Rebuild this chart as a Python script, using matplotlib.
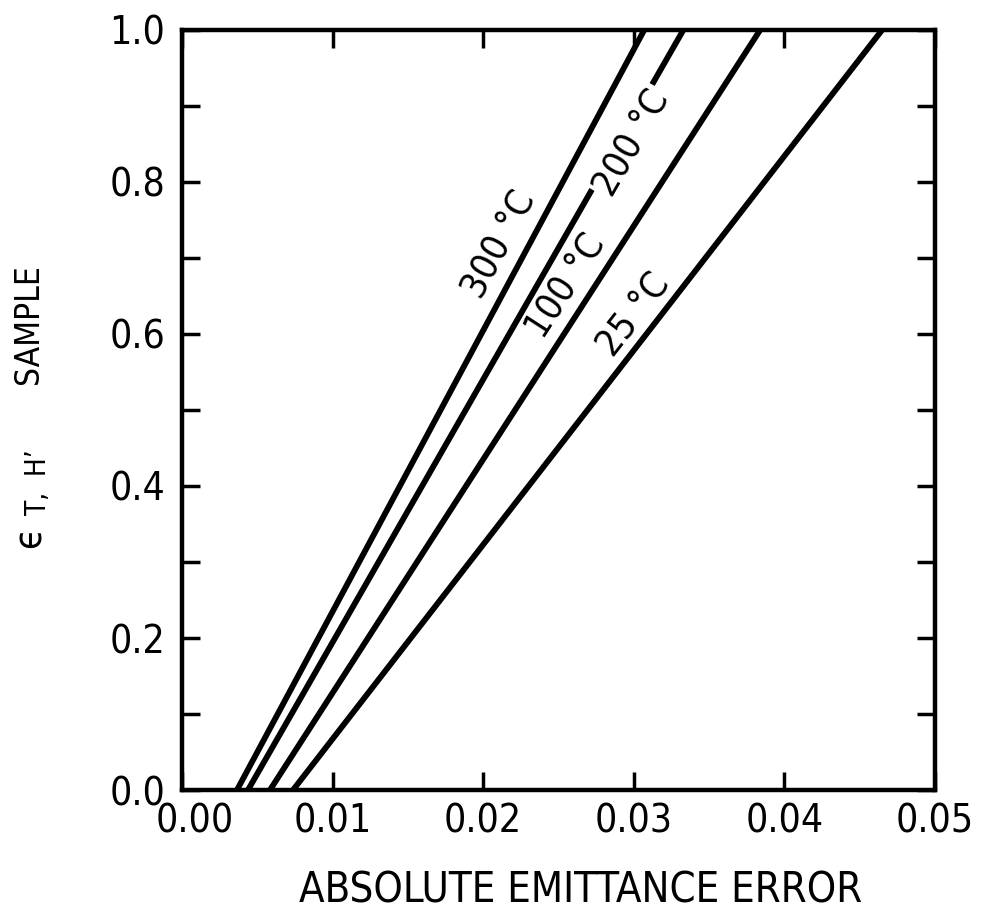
import numpy as np
import matplotlib
matplotlib.use("Agg")
import matplotlib.pyplot as plt
from matplotlib import font_manager as fm
from matplotlib.transforms import ScaledTranslation

# Data: each line runs from (x_at_0, 0) to (x_at_1, 1)
temps = ["300 °C", "200 °C", "100 °C", "25 °C"]
x_at_0 = [0.00365, 0.00438, 0.00584, 0.00737]
x_at_1 = [0.0307, 0.0333, 0.0384, 0.0465]
y_ends = [0.0, 1.0]
label_x = [0.02112, 0.02995, 0.02556, 0.03008]
label_y = [0.717, 0.851, 0.662, 0.625]
xticks = [0.00, 0.01, 0.02, 0.03, 0.04, 0.05]
xticklabels = ["0.00", "0.01", "0.02", "0.03", "0.04", "0.05"]
yticks = [0.0, 0.2, 0.4, 0.6, 0.8, 1.0]
yticklabels = ["0.0", "0.2", "0.4", "0.6", "0.8", "1.0"]
yminor = [0.1, 0.3, 0.5, 0.7, 0.9]

# pick a condensed face if one is installed
cond = fm.FontProperties(family='DejaVu Sans', stretch='condensed')
path = fm.findfont(cond, fallback_to_default=True)
if 'Condensed' in path:
    STRETCH = 'condensed'
    TS = 28
else:
    STRETCH = 'normal'
    TS = 26
plt.rcParams['font.family'] = ['DejaVu Sans']
plt.rcParams['font.stretch'] = STRETCH

W, H = 984, 913
fig = plt.figure(figsize=(W / 100, H / 100), dpi=100)
ax = fig.add_axes([0.185, 0.1347, 0.765, 0.8325])
ax.set_xlim(0, 0.05)
ax.set_ylim(0, 1.0)

for x0, x1 in zip(x_at_0, x_at_1):
    ax.plot([x0, x1], y_ends, color='black', lw=4.2, solid_capstyle='butt', zorder=2)

ax.set_xticks(xticks)
ax.set_xticklabels(xticklabels)
ax.set_yticks(yticks)
ax.set_yticklabels(yticklabels)
ax.set_yticks(yminor, minor=True)
ax.tick_params(which='both', direction='in', top=True, right=True,
               length=13, width=2.5, labelsize=TS)
ax.tick_params(axis='x', pad=9)
ax.tick_params(axis='y', pad=12)
for s in ax.spines.values():
    s.set_linewidth(3.2)

# the first x tick label sits a little to the right in the original
first = ax.get_xticklabels()[0]
first.set_transform(first.get_transform() + ScaledTranslation(0.13, 0, fig.dpi_scale_trans))

for i, (t, lx, ly) in enumerate(zip(temps, label_x, label_y)):
    p0 = ax.transData.transform((x_at_0[i], 0.0))
    p1 = ax.transData.transform((x_at_1[i], 1.0))
    ang = np.degrees(np.arctan2(p1[1] - p0[1], p1[0] - p0[0]))
    kw = {}
    if i == 1:
        kw['bbox'] = dict(facecolor='white', edgecolor='none', pad=2)
    ax.text(lx, ly, t, rotation=ang, rotation_mode='anchor',
            ha='center', va='center', fontsize=TS - 1, zorder=3, **kw)

ax.set_xlabel("ABSOLUTE EMITTANCE ERROR", fontsize=TS + 2)
ax.xaxis.set_label_coords(0.53, -0.105)

# y label assembled from pieces (rotated)
def fpos(px, py):
    return px / W, 1 - py / H

fig.text(*fpos(30, 537), "\u03f5", rotation=90, ha='center', va='center', fontsize=TS)
fig.text(*fpos(38, 482), "T,  H\u2019", rotation=90, ha='center', va='center', fontsize=TS - 8)
fig.text(*fpos(28, 324), "SAMPLE", rotation=90, ha='center', va='center', fontsize=TS - 4)

fig.savefig("out.png", dpi=100)
